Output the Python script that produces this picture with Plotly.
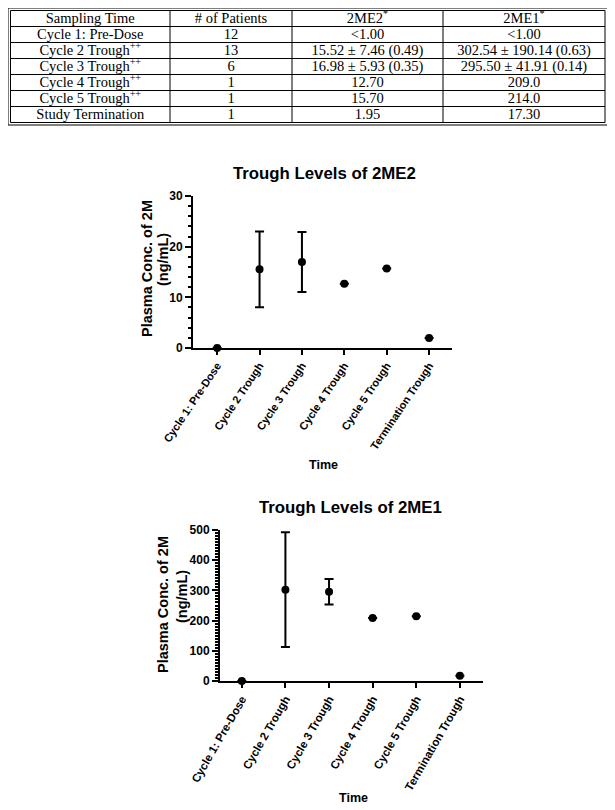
import plotly.graph_objects as go

# ---------------- data ----------------
table_header = ["Sampling Time", "# of Patients", "2ME2<sup>*</sup>", "2ME1<sup>*</sup>"]
sampling_times = ["Cycle 1: Pre-Dose", "Cycle 2 Trough<sup>++</sup>", "Cycle 3 Trough<sup>++</sup>",
                  "Cycle 4 Trough<sup>++</sup>", "Cycle 5 Trough<sup>++</sup>", "Study Termination"]
n_patients = ["12", "13", "6", "1", "1", "1"]
me2_table = ["&lt;1.00", "15.52 ± 7.46 (0.49)", "16.98 ± 5.93 (0.35)", "12.70", "15.70", "1.95"]
me1_table = ["&lt;1.00", "302.54 ± 190.14 (0.63)", "295.50 ± 41.91 (0.14)", "209.0", "214.0", "17.30"]

categories = ["Cycle 1: Pre-Dose", "Cycle 2 Trough", "Cycle 3 Trough",
              "Cycle 4 Trough", "Cycle 5 Trough", "Termination Trough"]
me2_mean = [0.0, 15.52, 16.98, 12.70, 15.70, 1.95]
me2_sd = [None, 7.46, 5.93, None, None, None]
me1_mean = [0.0, 302.54, 295.50, 209.0, 214.0, 17.30]
me1_sd = [None, 190.14, 41.91, None, None, None]

# ---------------- layout helpers ----------------
# the page body has an 8px margin, so the figure starts at (8, 8) of the window
OFF = 8
WIN_W, WIN_H = 615, 810
W, H = WIN_W - OFF, WIN_H - OFF

def px(x):
    return (x - OFF) / W
def py(y):
    return 1 - (y - OFF) / H

SERIF = "Liberation Serif"
SANS = "Liberation Sans"

# table geometry (window-pixel layout on a hidden full-page axis)
col_edges = [10.5, 170, 292, 443, 605]
row_top, row_h = 10.5, 16.0

rows = [table_header] + [list(r) for r in zip(sampling_times, n_patients, me2_table, me1_table)]
n_rows = len(rows)
row_edges = [row_top + row_h * i for i in range(n_rows + 1)]

tx, ty, tt = [], [], []
for r, row in enumerate(rows):
    for c, val in enumerate(row):
        tx.append((col_edges[c] + col_edges[c + 1]) / 2)
        ty.append((row_edges[r] + row_edges[r + 1]) / 2 + 0.5)
        tt.append(val)

fig = go.Figure()

fig.add_trace(go.Scatter(
    x=tx, y=ty, text=tt, mode="text", textposition="middle center",
    textfont=dict(family=SERIF, size=14.5, color="black"),
    xaxis="x3", yaxis="y3", cliponaxis=False, showlegend=False, hoverinfo="skip",
))

def scatter(y, sd, xa, ya):
    return go.Scatter(
        x=categories, y=y, mode="markers", xaxis=xa, yaxis=ya, cliponaxis=False,
        marker=dict(color="black", size=8),
        error_y=dict(type="data", array=sd, visible=True, color="black", thickness=2, width=4.5),
        showlegend=False, hoverinfo="x+y",
    )

fig.add_trace(scatter(me2_mean, me2_sd, "x", "y"))
fig.add_trace(scatter(me1_mean, me1_sd, "x2", "y2"))

tickfont = dict(family=SANS, size=12, color="black", weight="bold")

def xaxis(dom, anchor, rng, angle, fsize):
    return dict(domain=dom, anchor=anchor, type="category", range=rng, automargin=False,
                showline=True, linewidth=2, linecolor="black", ticks="outside",
                ticklen=5, tickwidth=2, tickcolor="black", tickangle=angle,
                tickfont=dict(family=SANS, size=fsize, color="black", weight="bold"),
                showgrid=False, zeroline=False)

def yaxis(dom, anchor, rng, dtick, minor):
    return dict(domain=dom, anchor=anchor, range=rng, dtick=dtick, automargin=False,
                showline=True, linewidth=2, linecolor="black", ticks="outside",
                ticklen=6, tickwidth=2, tickcolor="black", tickfont=tickfont,
                minor=dict(dtick=minor, ticks="outside", ticklen=3, tickwidth=1.5, tickcolor="black"),
                showgrid=False, zeroline=False)

annots = []
def ann(text, x, y, size, angle=0):
    annots.append(dict(text=text, x=px(x), y=py(y), xref="paper", yref="paper",
                       showarrow=False, textangle=angle, xanchor="center", yanchor="middle",
                       font=dict(family=SANS, size=size, color="black", weight="bold")))

ann("Trough Levels of 2ME2", 324, 173, 16.8)
ann("Time", 323, 465, 12.5)
ann("Plasma Conc. of 2M", 147, 269, 14.5, -90)
ann("(ng/mL)", 163, 260, 14.5, -90)
ann("Trough Levels of 2ME1", 350, 507, 16.8)
ann("Time", 353, 798, 12.5)
ann("Plasma Conc. of 2M", 163, 605, 14.5, -90)
ann("(ng/mL)", 182, 597, 14.5, -90)

shapes = []
def tline(x0, y0, x1, y1, w=1):
    shapes.append(dict(type="line", xref="x3", yref="y3", x0=x0, y0=y0, x1=x1, y1=y1,
                       line=dict(color="black", width=w)))

for yv in row_edges:
    tline(col_edges[0], yv, col_edges[-1], yv)
for xv in col_edges:
    tline(xv, row_edges[0], xv, row_edges[-1])
# outer double border
g = 2.5
shapes.append(dict(type="rect", xref="x3", yref="y3", x0=col_edges[0] - g, x1=col_edges[-1] + g,
                   y0=row_edges[0] - g, y1=row_edges[-1] + g, line=dict(color="black", width=1)))

hidden = dict(visible=False, showgrid=False, zeroline=False, automargin=False, fixedrange=True)

fig.update_layout(
    template="none",
    width=W, height=H, autosize=False,
    margin=dict(l=0, r=0, t=0, b=0, pad=0),
    paper_bgcolor="white", plot_bgcolor="rgba(0,0,0,0)",
    xaxis=xaxis([px(193), px(452)], "y", [-0.57, 5.54], -56, 11),
    yaxis=yaxis([py(348), py(196)], "x", [0, 30], 10, 2),
    xaxis2=xaxis([px(220), px(483)], "y2", [-0.5, 5.53], -60, 11.5),
    yaxis2=yaxis([py(681), py(530)], "x2", [0, 500], 100, 10),
    xaxis3=dict(domain=[0, 1], anchor="y3", range=[OFF, WIN_W], **hidden),
    yaxis3=dict(domain=[0, 1], anchor="x3", range=[WIN_H, OFF], **hidden),
    annotations=annots, shapes=shapes, showlegend=False,
)

fig.write_html("out.html")
